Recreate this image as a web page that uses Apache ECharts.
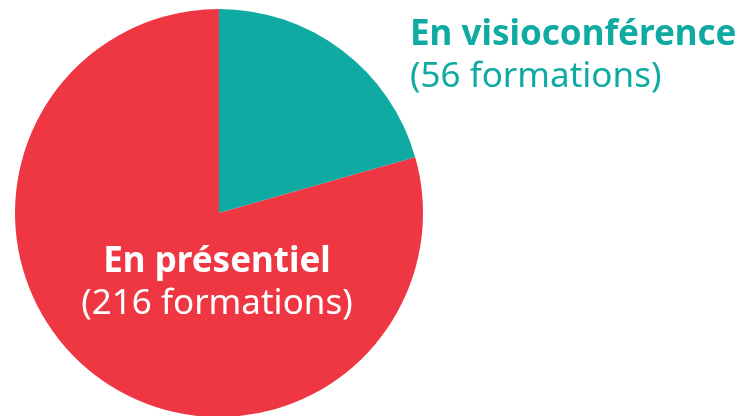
<!DOCTYPE html>
<html>
<head>
<meta charset="utf-8">
<script src="https://cdn.jsdelivr.net/npm/echarts@6/dist/echarts.min.js"></script>
<style>
	html, body { margin: 0; padding: 0; background: #fff; }
	#main { width: 743px; height: 416px; }
</style>
</head>
<body>
<div id="main"></div>
<script>
	// données
	var categories = ['En visioconférence', 'En présentiel'];
	var values = [56, 216];
	var colors = ['#0FABA2', '#EE3743'];
	var textColors = ['#0FABA2', '#FFFFFF'];

	var pieData = [];
	for (var i = 0; i < categories.length; i++) {
		pieData.push({
			name: categories[i],
			value: values[i],
			itemStyle: { color: colors[i] },
			label: { color: textColors[i] }
		});
	}

	var myChart = echarts.init(document.getElementById('main'));
	myChart.setOption({
		animation: false,
		backgroundColor: '#FFF',
		series: [{
			type: 'pie',
			center: [219, 213],
			radius: 204,
			startAngle: 90,
			clockwise: true,
			silent: true,
			data: pieData,
			labelLine: { show: false },
			label: {
				show: true,
				position: 'inside',
				fontFamily: 'Noto Sans',
				lineHeight: 42,
				formatter: function (p) {
					return '{b|' + p.name + '}\n{n|(' + p.value + ' formations)}';
				},
				rich: {
					b: { fontFamily: 'Noto Sans', fontWeight: 'bold', fontSize: 35, lineHeight: 42 },
					n: { fontFamily: 'Noto Sans', fontWeight: 'normal', fontSize: 35, lineHeight: 42 }
				}
			},
			labelLayout: function (params) {
				// position des étiquettes
				if (params.dataIndex === 0) {
					return { x: 410, y: 14, align: 'left', verticalAlign: 'top' };
				}
				return { x: 217, y: 283, align: 'center', verticalAlign: 'middle' };
			}
		}]
	});
</script>
</body>
</html>
